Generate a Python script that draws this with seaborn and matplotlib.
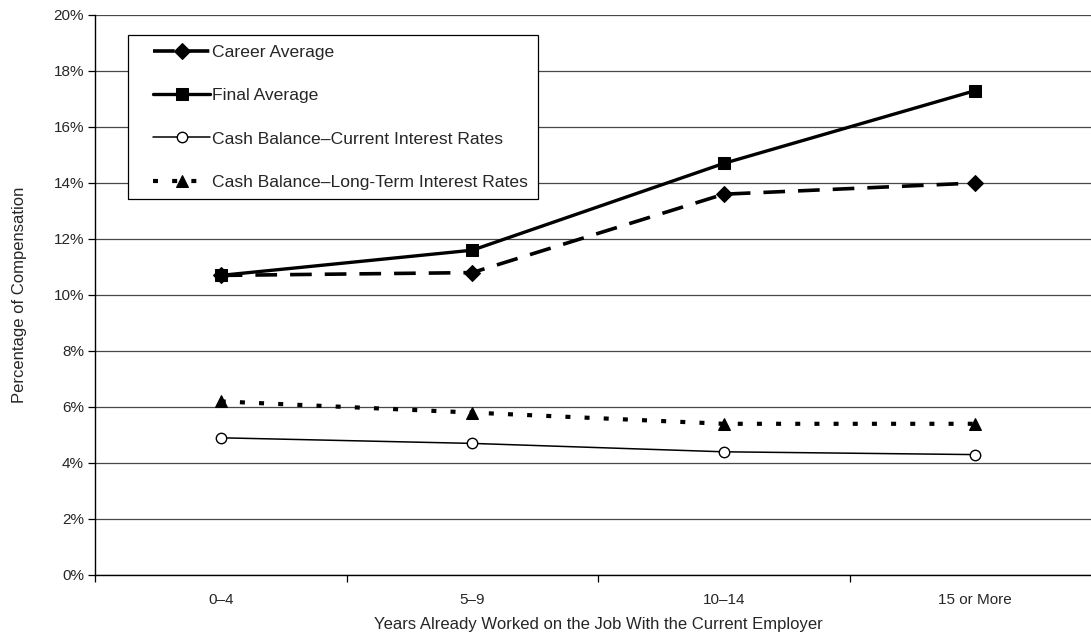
import matplotlib
matplotlib.use("Agg")
import matplotlib.pyplot as plt
import seaborn as sns
import pandas as pd
from matplotlib.legend_handler import HandlerLine2D
from matplotlib.lines import Line2D
from matplotlib.ticker import FixedLocator, FuncFormatter

categories = ["0\u20134", "5\u20139", "10\u201314", "15 or More"]
career_average = [10.7, 10.8, 13.6, 14.0]
final_average = [10.7, 11.6, 14.7, 17.3]
cash_current = [4.9, 4.7, 4.4, 4.3]
cash_long_term = [6.2, 5.8, 5.4, 5.4]

series_names = [
    "Career Average",
    "Final Average",
    "Cash Balance\u2013Current Interest Rates",
    "Cash Balance\u2013Long-Term Interest Rates",
]
series_values = [career_average, final_average, cash_current, cash_long_term]

sns.set_theme(style="white")
plt.rcParams["font.family"] = ["Liberation Sans", "DejaVu Sans"]

fig = plt.figure(figsize=(10.91, 6.37), dpi=100)
ax = fig.add_axes([95 / 1091, 62 / 637, 1006 / 1091, 560 / 637])

styles = [
    dict(linestyle=(0, (6.0, 3.6)), linewidth=2.6, marker="D", markersize=8,
         markerfacecolor="black", markeredgecolor="black"),
    dict(linestyle="-", linewidth=2.4, marker="s", markersize=9,
         markerfacecolor="black", markeredgecolor="black"),
    dict(linestyle="-", linewidth=1.1, marker="o", markersize=7.5,
         markerfacecolor="white", markeredgecolor="black", markeredgewidth=1.0),
    dict(linestyle=(0, (1.2, 3.4)), linewidth=3.0, marker="^", markersize=8.5,
         markerfacecolor="black", markeredgecolor="black"),
]

x_pos = list(range(len(categories)))
for name, vals, st in zip(series_names, series_values, styles):
    df = pd.DataFrame({"x": x_pos, "y": vals})
    sns.lineplot(data=df, x="x", y="y", ax=ax, color="black", label=name,
                 errorbar=None, **st)

ax.set_xlim(-0.5, 3.5)
ax.set_ylim(0, 20)

ax.xaxis.set_major_locator(FixedLocator(x_pos))
ax.set_xticklabels(categories)
ax.xaxis.set_minor_locator(FixedLocator([-0.5, 0.5, 1.5, 2.5, 3.5]))
ax.tick_params(axis="x", which="major", length=0, pad=13, labelsize=11)
ax.tick_params(axis="x", which="minor", length=5, width=0.9, direction="out",
               bottom=True, color="black")

ax.yaxis.set_major_locator(FixedLocator(range(0, 21, 2)))
ax.yaxis.set_major_formatter(FuncFormatter(lambda v, _: f"{v:.0f}%"))
ax.tick_params(axis="y", which="major", length=5, width=0.9, direction="out",
               left=True, color="black", labelsize=11, pad=3)

ax.grid(axis="y", color="#484848", linewidth=0.9)
ax.set_axisbelow(True)

for side in ["top", "right"]:
    ax.spines[side].set_visible(False)
for side in ["left", "bottom"]:
    ax.spines[side].set_color("black")
    ax.spines[side].set_linewidth(1.0)

ax.set_xlabel("Years Already Worked on the Job With the Current Employer",
              fontsize=12, labelpad=7)
ax.set_ylabel("Percentage of Compensation", fontsize=12, labelpad=19)

# legend handles start a little to the right of the frame padding
leg = ax.legend(loc="upper left", bbox_to_anchor=(0.033, 0.964),
                fontsize=12.6, frameon=True, fancybox=False, framealpha=1,
                edgecolor="black", handlelength=4.15, handletextpad=0.1,
                labelspacing=1.6, borderpad=0.55, borderaxespad=0,
                handler_map={Line2D: HandlerLine2D(xpad=0.85)})
leg.get_frame().set_linewidth(0.9)

fig.savefig("out.png", dpi=100, facecolor="white")
